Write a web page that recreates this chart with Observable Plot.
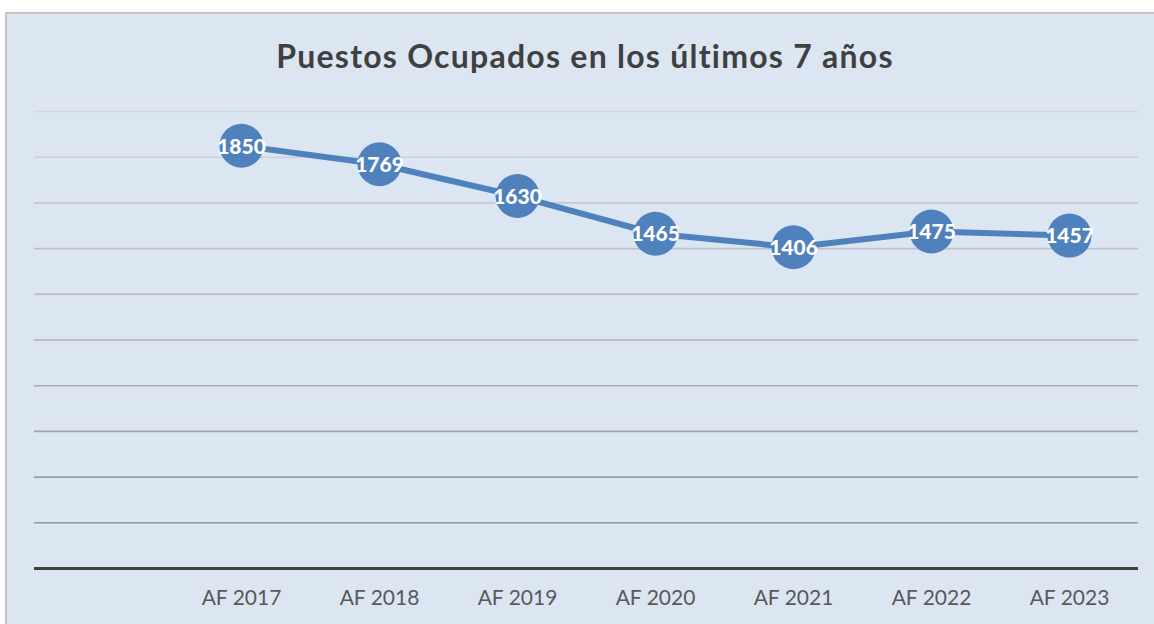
<!DOCTYPE html>
<html>
<head>
<meta charset="utf-8">
<script src="https://cdn.jsdelivr.net/npm/d3@7"></script>
<script src="https://cdn.jsdelivr.net/npm/@observablehq/plot@0.6"></script>
<style>
  html, body { margin: 0; padding: 0; background: #ffffff; width: 1154px; height: 624px; overflow: hidden; }
  #box { position: absolute; left: 5px; top: 12px; width: 1170px; height: 630px; background: #dce6f2; border: 2px solid #c4c4c4; box-sizing: border-box; }
  #title { position: absolute; left: 0; top: 36px; width: 1170px; text-align: center; font-family: Lato, "Open Sans", sans-serif; font-weight: 700; font-size: 32px; letter-spacing: 1.25px; color: #404040; white-space: nowrap; }
  #chart { position: absolute; left: 0; top: 90px; }
</style>
</head>
<body>
<div id="box"></div>
<div id="title">Puestos Ocupados en los últimos 7 años</div>
<div id="chart"></div>
<script>
const categories = ["AF 2017", "AF 2018", "AF 2019", "AF 2020", "AF 2021", "AF 2022", "AF 2023"];
const values = [1850, 1769, 1630, 1465, 1406, 1475, 1457];
const gridValues = [200, 400, 600, 800, 1000, 1200, 1400, 1600, 1800, 2000];

const data = categories.map((c, i) => ({cat: c, value: values[i]}));
const gridColor = d3.scaleLinear().domain([200, 2000]).range(["#8e98a2", "#d2d7de"]);

const plot = Plot.plot({
  width: 1154,
  height: 534,
  marginTop: 21,
  marginBottom: 56,
  marginLeft: 34,
  marginRight: 16,
  style: { background: "transparent", fontFamily: "Lato, 'Open Sans', sans-serif" },
  x: { type: "band", domain: [" ", ...categories], padding: 0, label: null },
  y: { domain: [0, 2000], axis: null },
  marks: [
    Plot.ruleY(gridValues, { stroke: d => gridColor(d), strokeWidth: 1.6 }),
    Plot.ruleY([0], { stroke: "#404040", strokeWidth: 3.2 }),
    Plot.axisX({ tickSize: 0, tickPadding: 22, fontSize: 21, fill: "#595959", tickFormat: d => d.trim() === "" ? "" : d }),
    Plot.line(data, { x: "cat", y: "value", stroke: "#4f81bd", strokeWidth: 6 }),
    Plot.dot(data, { x: "cat", y: "value", r: 22, fill: "#4f81bd" }),
    Plot.text(data, { x: "cat", y: "value", text: d => String(d.value), fill: "white", fontSize: 21, fontWeight: "900", dy: 1 })
  ]
});
document.getElementById("chart").appendChild(plot);
</script>
</body>
</html>
